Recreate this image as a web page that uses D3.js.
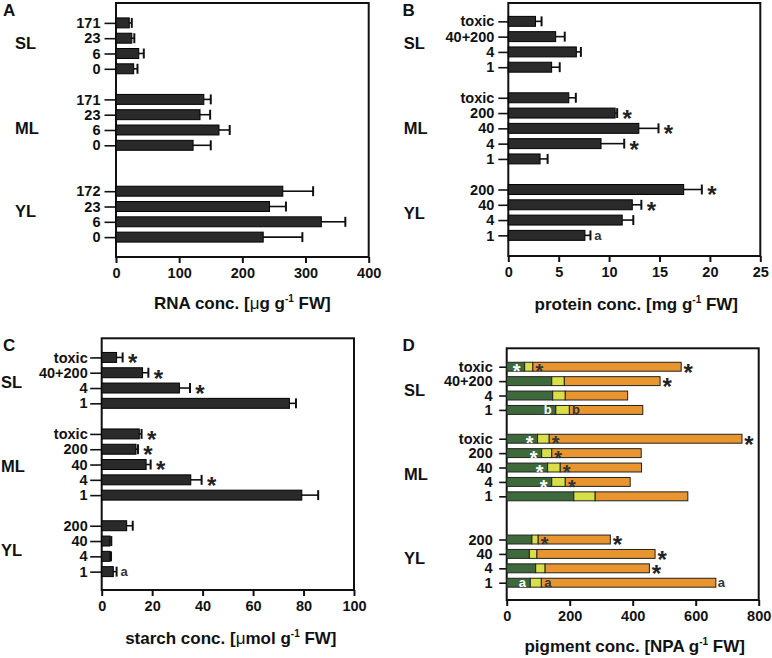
<!DOCTYPE html>
<html>
<head>
<meta charset="utf-8">
<script src="https://cdn.jsdelivr.net/npm/d3@7"></script>
<style>
  body { margin: 0; background: #fff; }
  svg { display: block; font-family: "Liberation Sans", Arial, sans-serif; }
</style>
</head>
<body>
<svg id="chart" width="772" height="658"></svg>
<script>
// ---------------- DATA ----------------
const groups = ["SL", "ML", "YL"];

// Panel A: RNA
const rnaLabels = [["171", "23", "6", "0"], ["171", "23", "6", "0"], ["172", "23", "6", "0"]];
const rnaMean   = [[21, 25, 36, 28], [139, 133, 163, 122], [264, 243, 325, 233]];
const rnaSD     = [[4, 4, 8, 6], [11, 16, 17, 28], [48, 26, 38, 62]];
const rnaMark   = [["", "", "", ""], ["", "", "", ""], ["", "", "", ""]];
const rnaTicks  = [0, 100, 200, 300, 400];

// Panel B: protein
const protLabels = [["toxic", "40+200", "4", "1"], ["toxic", "200", "40", "4", "1"], ["200", "40", "4", "1"]];
const protMean   = [[2.7, 4.7, 6.75, 4.3], [6.0, 10.6, 12.95, 9.2, 3.15], [17.4, 12.3, 11.3, 7.6]];
const protSD     = [[0.6, 0.9, 0.45, 0.8], [0.7, 0.2, 1.95, 2.3, 0.75], [1.8, 0.9, 1.1, 0.55]];
const protMark   = [["", "", "", ""], ["", "*", "*", "*", ""], ["*", "*", "", "a"]];
const protTicks  = [0, 5, 10, 15, 20, 25];

// Panel C: starch
const starchLabels = [["toxic", "40+200", "4", "1"], ["toxic", "200", "40", "4", "1"], ["200", "40", "4", "1"]];
const starchMean   = [[5.9, 16.2, 30.8, 74.4], [14.9, 13.6, 17.6, 35.3, 79.3], [9.9, 3.3, 3.3, 4.6]];
const starchSD     = [[2.4, 2.3, 4.2, 2.6], [0.9, 0.8, 1.8, 4.3, 6.5], [2.4, 0.5, 0.4, 1.3]];
const starchMark   = [["*", "*", "*", ""], ["*", "*", "*", "*", ""], ["", "", "", "a"]];
const starchTicks  = [0, 20, 40, 60, 80, 100];

// Panel D: pigments (stacked: green, yellow, orange)
const pigLabels  = [["toxic", "40+200", "4", "1"], ["toxic", "200", "40", "4", "1"], ["200", "40", "4", "1"]];
const pigGreen   = [[57, 143, 146, 156], [98, 111, 130, 143, 213], [80, 72, 92, 75]];
const pigYellow  = [[26, 40, 40, 43], [37, 32, 40, 43, 68], [20, 24, 30, 35]];
const pigOrange  = [[471, 304, 198, 233], [612, 284, 258, 206, 294], [229, 375, 331, 554]];
const pigMarkGreen  = [["*", "", "", "b"], ["*", "*", "*", "*", ""], ["", "", "", "a"]];
const pigMarkOrange = [["*", "", "", "b"], ["*", "*", "*", "*", ""], ["*", "", "", "a"]];
const pigMarkEnd    = [["*", "*", "", ""], ["*", "", "", "", ""], ["*", "*", "*", "a"]];
const pigTicks   = [0, 200, 400, 600, 800];
const pigColors  = ["#3e6a3b", "#d9df47", "#e8952f"];

// ---------------- DRAWING ----------------
const svg = d3.select("#chart");
const BAR_FILL = "#2a2a2a";

function buildRows(labels, gaps) {
  const rows = []; let s = 0;
  labels.forEach((lst, gi) => {
    lst.forEach((lab, i) => { rows.push({ g: gi, i: i, label: lab, slot: s }); s++; });
    s += gaps[gi] || 0;
  });
  return rows;
}

function panel(cfg) {
  const g = svg.append("g");
  const x = d3.scaleLinear().domain([0, cfg.max]).range([cfg.left, cfg.right]);
  const y = d3.scaleLinear().domain(cfg.slotDomain).range([cfg.top, cfg.bottom]);
  const step = y(1) - y(0);
  const bh = step * cfg.barFrac;
  const rows = buildRows(cfg.labels, cfg.gaps);

  // frame
  g.append("rect").attr("x", cfg.left).attr("y", cfg.top)
    .attr("width", cfg.right - cfg.left).attr("height", cfg.bottom - cfg.top)
    .attr("fill", "none").attr("stroke", "#111").attr("stroke-width", 2);

  // y axis with category labels
  const ya = g.append("g").attr("transform", `translate(${cfg.left},0)`)
    .call(d3.axisLeft(y).tickValues(rows.map(r => r.slot))
      .tickFormat((d, i) => rows[i].label).tickSize(cfg.tickLen).tickPadding(cfg.tickPad));
  ya.select(".domain").remove();
  ya.selectAll("line").attr("stroke", "#111").attr("stroke-width", 1.6);
  ya.selectAll("text").attr("font-size", 14.5).attr("font-weight", "bold").attr("fill", "#111");

  // x axis
  const xa = g.append("g").attr("transform", `translate(0,${cfg.bottom})`)
    .call(d3.axisBottom(x).tickValues(cfg.ticks).tickSize(6).tickPadding(5));
  xa.select(".domain").remove();
  xa.selectAll("line").attr("stroke", "#111").attr("stroke-width", 2);
  xa.selectAll("text").attr("font-size", 14.5).attr("font-weight", "bold").attr("fill", "#111");

  // group labels
  groups.forEach((name, gi) => {
    g.append("text").attr("x", cfg.groupX).attr("y", y(cfg.groupSlot[gi]))
      .attr("dy", "0.36em").attr("font-size", 16.5).attr("font-weight", "bold").attr("fill", "#111")
      .text(name);
  });

  // panel letter
  g.append("text").attr("x", cfg.letterX).attr("y", cfg.letterY)
    .attr("font-size", 17).attr("font-weight", "bold").attr("fill", "#111").text(cfg.letter);

  // axis title
  const t = g.append("text").attr("x", (cfg.left + cfg.right) / 2 + (cfg.titleDx || 0)).attr("y", cfg.titleY)
    .attr("text-anchor", "middle").attr("font-size", 17).attr("font-weight", "bold").attr("fill", "#111");
  t.append("tspan").text(cfg.title[0]);
  if (cfg.title[1]) t.append("tspan").attr("font-weight", "normal").text(cfg.title[1]);
  t.append("tspan").text(cfg.title[2]);
  t.append("tspan").attr("font-size", 10).attr("dy", -7).text("-1");
  t.append("tspan").attr("dy", 7).text(cfg.title[3]);

  return { g, x, y, bh, rows };
}

function markText(g, xc, yc, s, color, size) {
  if (!s) return;
  const isStar = s === "*";
  const fs = isStar ? (size || 24) : 13;
  g.append("text").attr("x", xc).attr("y", yc + (isStar ? fs * 0.58 : 4.5))
    .attr("text-anchor", "middle").attr("font-size", fs).attr("font-weight", "bold")
    .attr("fill", color).text(s);
}

function barPanel(cfg, mean, sd, marks) {
  const p = panel(cfg);
  const { g, x, y, bh, rows } = p;
  rows.forEach(r => {
    const m = mean[r.g][r.i], e = sd[r.g][r.i];
    const yc = y(r.slot);
    g.append("line").attr("x1", x(m)).attr("x2", x(m + e)).attr("y1", yc).attr("y2", yc)
      .attr("stroke", "#111").attr("stroke-width", 1.6);
    g.append("line").attr("x1", x(m + e)).attr("x2", x(m + e)).attr("y1", yc - bh / 2).attr("y2", yc + bh / 2)
      .attr("stroke", "#111").attr("stroke-width", 2);
    g.append("rect").attr("x", x(0)).attr("y", yc - bh / 2).attr("width", x(m) - x(0)).attr("height", bh)
      .attr("fill", BAR_FILL).attr("stroke", "#000").attr("stroke-width", 1);
    const mk = marks[r.g][r.i];
    if (mk === "*") markText(g, x(m + e) + 10, yc, "*", "#222");
    else if (mk) markText(g, x(m + e) + 7.5, yc, mk, "#333");
  });
}

// Panel A
barPanel({
  left: 116, right: 368.7, top: 3, bottom: 257, slotDomain: [-1.3, 15.3], barFrac: 0.65,
  max: 400, ticks: rnaTicks, labels: rnaLabels, gaps: [1, 2],
  tickLen: 11.5, tickPad: 4, groupX: 15, groupSlot: [1.31, 6.86, 12.33],
  letter: "A", letterX: 3, letterY: 16,
  title: ["RNA conc. [", "\u03bc", "g g", " FW]"], titleY: 309
}, rnaMean, rnaSD, rnaMark);

// Panel B
barPanel({
  left: 508.3, right: 760.3, top: 3, bottom: 256, slotDomain: [-1.2, 15.35], barFrac: 0.65,
  max: 25, ticks: protTicks, labels: protLabels, gaps: [1, 1],
  tickLen: 10, tickPad: 4, groupX: 403.7, groupSlot: [1.44, 7.0, 12.56],
  letter: "B", letterX: 402.5, letterY: 16,
  title: ["protein conc. [mg g", "", "", " FW]"], titleY: 310, titleDx: 2
}, protMean, protSD, protMark);

// Panel C
barPanel({
  left: 101.7, right: 354, top: 338.3, bottom: 590, slotDomain: [-1.25, 15.2], barFrac: 0.65,
  max: 100, ticks: starchTicks, labels: starchLabels, gaps: [1, 1],
  tickLen: 11.5, tickPad: 2.5, groupX: 1, groupSlot: [1.6, 7.1, 12.6],
  letter: "C", letterX: 3, letterY: 351,
  title: ["starch conc. [", "\u03bc", "mol g", " FW]"], titleY: 644, titleDx: 3
}, starchMean, starchSD, starchMark);

// Panel D (stacked)
(function () {
  const cfg = {
    left: 506.7, right: 758.7, top: 348.3, bottom: 600, slotDomain: [-1.28, 16.2], barFrac: 0.62,
    max: 800, ticks: pigTicks, labels: pigLabels, gaps: [1, 2],
    tickLen: 7.5, tickPad: 6.5, groupX: 404, groupSlot: [1.62, 7.45, 13.3],
    letter: "D", letterX: 402.5, letterY: 351,
    title: ["pigment conc. [NPA g", "", "", " FW]"], titleY: 652, titleDx: 2
  };
  const p = panel(cfg);
  const { g, x, y, bh, rows } = p;
  const series = [pigGreen, pigYellow, pigOrange];
  rows.forEach(r => {
    const yc = y(r.slot);
    let acc = 0;
    const ends = [];
    series.forEach((arr, k) => {
      const v = arr[r.g][r.i];
      g.append("rect").attr("x", x(acc)).attr("y", yc - bh / 2).attr("width", x(acc + v) - x(acc)).attr("height", bh)
        .attr("fill", pigColors[k]).attr("stroke", "#222").attr("stroke-width", 1);
      acc += v; ends.push(acc);
    });
    markText(g, x(ends[0]) - 8, yc, pigMarkGreen[r.g][r.i], "#fff", 20);
    markText(g, x(ends[1]) + 6.5, yc, pigMarkOrange[r.g][r.i], "#333", 20);
    const me = pigMarkEnd[r.g][r.i];
    if (me === "*") markText(g, x(ends[2]) + 7, yc, "*", "#222");
    else if (me) markText(g, x(ends[2]) + 5.5, yc, me, "#333");
  });
})();
</script>
</body>
</html>
